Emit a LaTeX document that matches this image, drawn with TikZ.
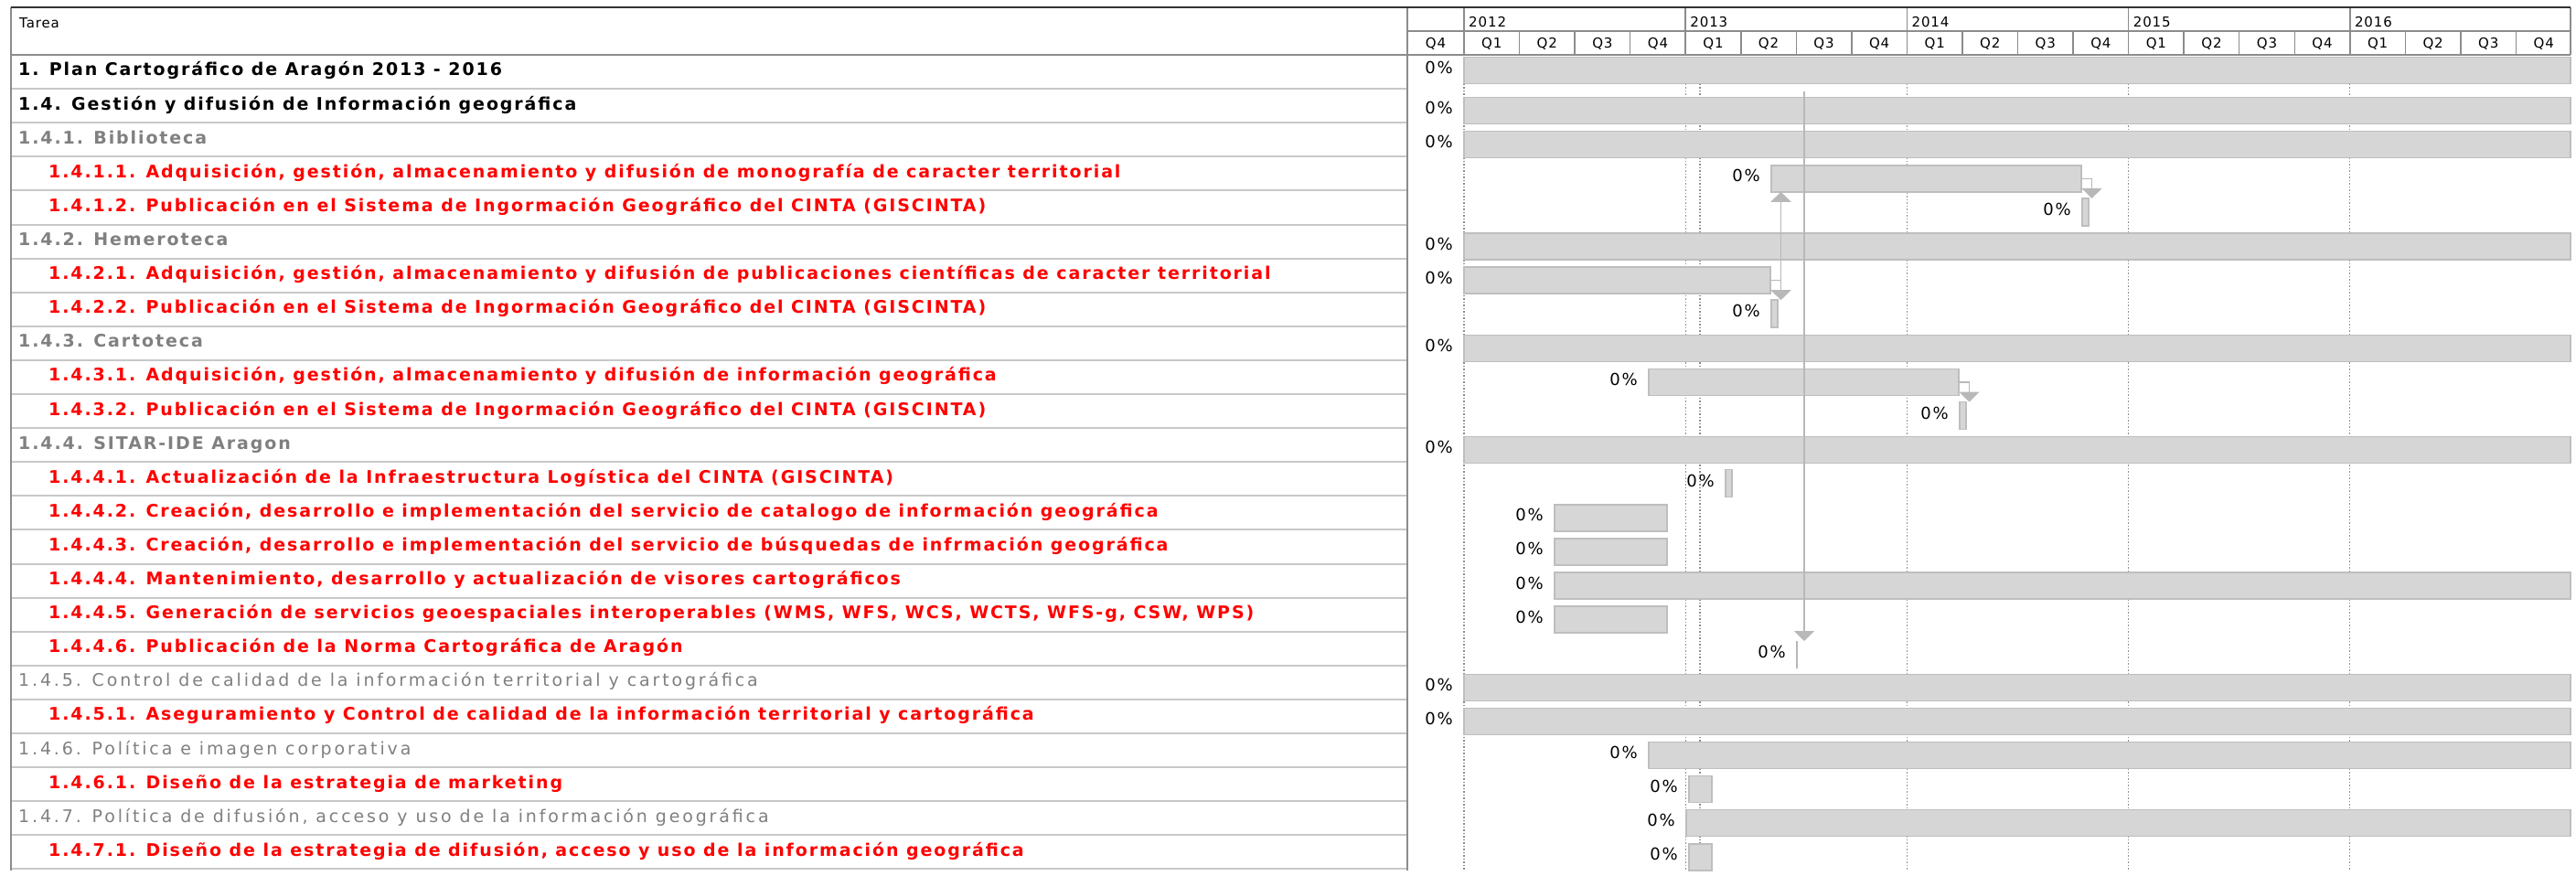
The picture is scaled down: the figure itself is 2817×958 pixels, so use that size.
\documentclass[tikz,border=0pt]{standalone}
\usepackage{fontspec}
\setmainfont{DejaVu Sans}
\newfontfamily\taskfont[LetterSpace=10]{DejaVu Sans}
\newfontfamily\grpfont[LetterSpace=15]{DejaVu Sans}
\newfontfamily\pctfont[LetterSpace=10]{DejaVu Sans}
\newfontfamily\headfont[LetterSpace=6]{DejaVu Sans}
\usetikzlibrary{calc, positioning}
\usetikzlibrary{arrows.meta}

\definecolor{taskred}{RGB}{255,0,0}
\definecolor{taskgray}{RGB}{128,128,128}
\definecolor{barfill}{RGB}{214,214,214}
\definecolor{barline}{RGB}{190,190,190}
\definecolor{gridgray}{RGB}{140,140,140}
\definecolor{rowgray}{RGB}{200,200,200}
\definecolor{depgray}{RGB}{184,184,184}

\tikzset{
  % one unit is one pixel of the chart, y grows downwards
  x=1pt, y=-1pt,
  % header texts
  hdr/.style={inner sep=0pt, font=\headfont\fontsize{15}{16}\selectfont},
  % task names
  sumtask/.style={anchor=base west, inner sep=0pt,
    font=\taskfont\bfseries\fontsize{19}{21}\selectfont},
  grptask/.style={sumtask, text=taskgray},
  grptaskn/.style={grptask, font=\grpfont\fontsize{19}{21}\selectfont},
  subtask/.style={sumtask, text=taskred, xshift=33pt},
  % percentage done
  pct/.style={inner sep=0pt, yshift=3pt,
    font=\pctfont\fontsize{18}{20}\selectfont},
  % bars and milestones
  bar/.style={draw=barline, fill=barfill, line width=1.5pt, anchor=north west,
    inner sep=0pt, outer sep=0pt, minimum height=29pt},
  mstone/.style={bar, minimum width=7pt, minimum height=30pt},
  % dependencies
  dep/.style={draw=depgray, line width=1.5pt,
    -{Triangle[width=22pt, length=11pt]}},
  % grid
  frame/.style={draw=gridgray, line width=1.5pt},
  yearline/.style={draw=gridgray, line width=1.3pt, dash pattern=on 1.5pt off 2pt},
  rowline/.style={draw=rowgray, line width=2pt},
}

\begin{document}
\begin{tikzpicture}
  \fill[white] (0,0) rectangle (2817,958);
  \useasboundingbox (0,0) rectangle (2817,958);

  % task rows
  \foreach \k in {1,...,24}
    \draw[rowline] (12,{60+\k*37.1}) -- (1539,{60+\k*37.1});

  % dotted year lines and today
  \foreach \i in {0,...,4}
    \draw[yearline] ({1601+242.2*\i},60) -- ({1601+242.2*\i},952);
  \draw[yearline] (1859,60) -- (1859,952);

  % header frame
  \draw[frame] (12,60) -- (2811,60);
  \draw[frame] (1539,34) -- (2811,34);
  \draw[frame] (12,8) -- (12,952);
  \draw[frame] (1539,8) -- (1539,952);
  \draw[frame] (2811,8) -- (2811,60);
  \foreach \i in {0,...,4}
    \draw[frame] ({1601+242.2*\i},8) -- ({1601+242.2*\i},60);
  \foreach \j in {1,...,19}
    \draw[frame] ({1601+60.55*\j},34) -- ({1601+60.55*\j},60);
  \draw[draw=black!80, line width=2.5pt] (12,8) -- (2811,8);

  % header texts
  \node[hdr, anchor=base west] (tarea) at (21,31) {Tarea};
  \foreach \y [count=\i from 0] in {2012,...,2016}
    \node[hdr, anchor=base west] (y\y) at ({1606+242.2*\i},30) {\y};
  \node[hdr, anchor=base] (qq) at (1570,53) {Q4};
  \foreach \j in {0,...,19} {
    \pgfmathtruncatemacro\q{mod(\j,4)+1}
    \node[hdr, anchor=base] (q\j) at ({1631.3+60.55*\j},53) {Q\q};
  }

  % task names
  \foreach \k/\s/\t in {
    1/sumtask/{1. Plan Cartográfico de Aragón 2013 - 2016},
    2/sumtask/{1.4. Gestión y difusión de Información geográfica},
    3/grptask/{1.4.1. Biblioteca},
    4/subtask/{1.4.1.1. Adquisición, gestión, almacenamiento y difusión de monografía de caracter territorial},
    5/subtask/{1.4.1.2. Publicación en el Sistema de Ingormación Geográfico del CINTA (GISCINTA)},
    6/grptask/{1.4.2. Hemeroteca},
    7/subtask/{1.4.2.1. Adquisición, gestión, almacenamiento y difusión de publicaciones científicas de caracter territorial},
    8/subtask/{1.4.2.2. Publicación en el Sistema de Ingormación Geográfico del CINTA (GISCINTA)},
    9/grptask/{1.4.3. Cartoteca},
    10/subtask/{1.4.3.1. Adquisición, gestión, almacenamiento y difusión de información geográfica},
    11/subtask/{1.4.3.2. Publicación en el Sistema de Ingormación Geográfico del CINTA (GISCINTA)},
    12/grptask/{1.4.4. SITAR-IDE Aragon},
    13/subtask/{1.4.4.1. Actualización de la Infraestructura Logística del CINTA (GISCINTA)},
    14/subtask/{1.4.4.2. Creación, desarrollo e implementación del servicio de catalogo de información geográfica},
    15/subtask/{1.4.4.3. Creación, desarrollo e implementación del servicio de búsquedas de infrmación geográfica},
    16/subtask/{1.4.4.4. Mantenimiento, desarrollo y actualización de visores cartográficos},
    17/subtask/{1.4.4.5. Generación de servicios geoespaciales interoperables (WMS, WFS, WCS, WCTS, WFS-g, CSW, WPS)},
    18/subtask/{1.4.4.6. Publicación de la Norma Cartográfica de Aragón},
    19/grptaskn/{1.4.5. Control de calidad de la información territorial y cartográfica},
    20/subtask/{1.4.5.1. Aseguramiento y Control de calidad de la información territorial y cartográfica},
    21/grptaskn/{1.4.6. Política e imagen corporativa},
    22/subtask/{1.4.6.1. Diseño de la estrategia de marketing},
    23/grptaskn/{1.4.7. Política de difusión, acceso y uso de la información geográfica},
    24/subtask/{1.4.7.1. Diseño de la estrategia de difusión, acceso y uso de la información geográfica}}
    \node[\s] (t\k) at (20,{60+(\k-1)*37.1+23}) {\t};

  % bars
  \node[bar, minimum width=1210pt] (b1) at (1601,62.7) {};
  \foreach \k/\xa/\xb in {2/1601/2811, 3/1601/2811, 4/1937/2276, 6/1601/2811,
      7/1601/1936, 9/1601/2811, 10/1803/2142, 12/1601/2811, 14/1700/1823,
      15/1700/1823, 16/1700/2811, 17/1700/1823, 19/1601/2811, 20/1601/2811,
      21/1803/2811, 22/1847/1872, 23/1844/2811, 24/1847/1872}
    \node[bar, minimum width={\xb-\xa}] (b\k) at (\xa,{60+(\k-1)*37.1+9.5}) {};

  % milestones
  \foreach \k/\xa in {5/2277, 8/1937, 11/2143, 13/1887}
    \node[mstone] (m\k) at (\xa,{60+(\k-1)*37.1+8.5}) {};
  \node[mstone, minimum width=0pt, draw=depgray] (m18) at (1965,701) {};

  % percentages
  \foreach \n in {b1,b2,b3,b4,m5,b6,b7,m8,b9,b10,m11,b12,m13,b14,b15,b16,
      b17,m18,b19,b20,b21,b22,b23,b24}
    \node[pct, left=12pt of \n] (p\n) {0\%};

  % dependencies
  \coordinate (j5) at ($(m5.north)+(7,0)$);
  \coordinate (j8) at ($(m8.north)+(7,0)$);
  \coordinate (j11) at ($(m11.north)+(7,0)$);
  \coordinate (j18) at ($(m18.north)+(8,0)$);
  \coordinate (src) at (1973,100);
  \draw[dep] (b4.east) -| (j5);
  \draw[dep] (b7.east) -| (j8);
  \draw[dep] (b7.east -| j8) -- (b4.south -| j8);
  \draw[dep] (b10.east) -| (j11);
  \draw[dep] (src) -- (j18);
\end{tikzpicture}
\end{document}
